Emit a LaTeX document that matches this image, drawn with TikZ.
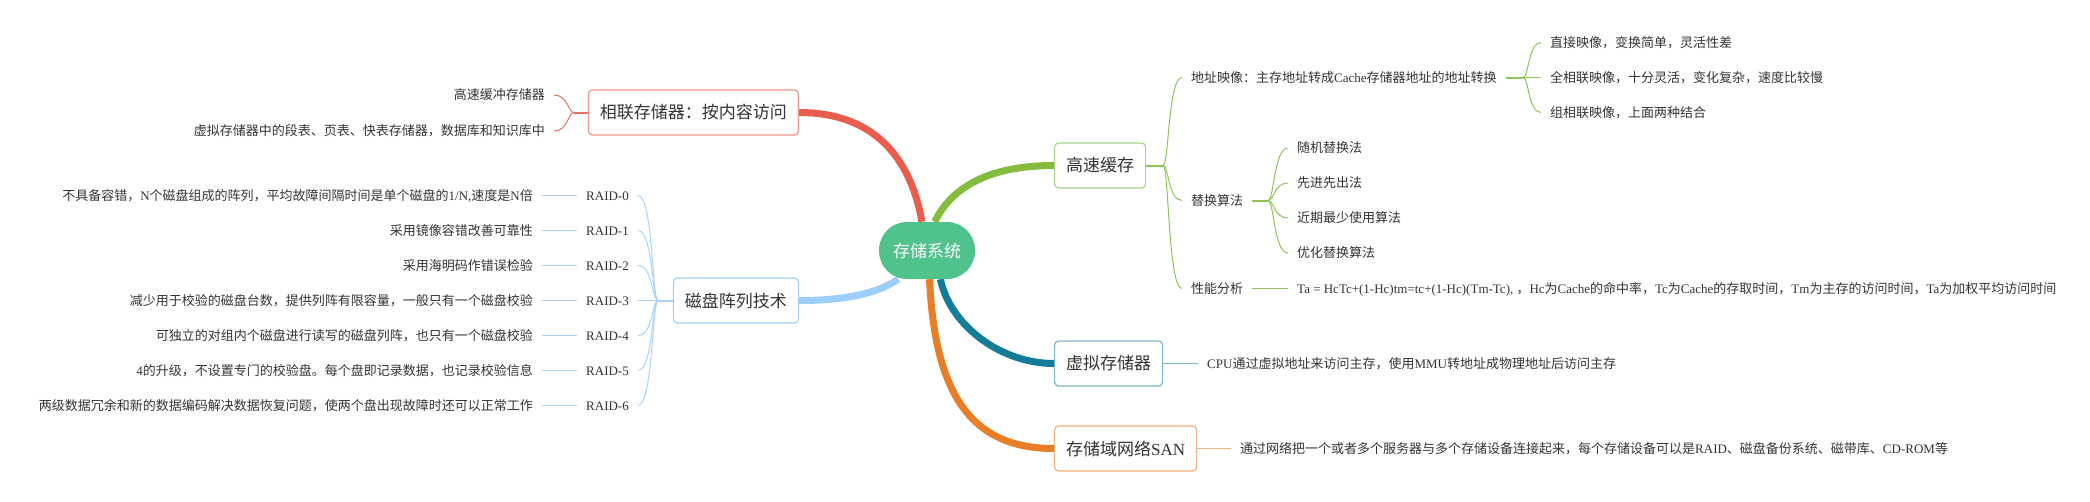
\documentclass[tikz,border=0pt]{standalone}
\usepackage{fontspec}
\setmainfont{Noto Sans CJK SC}
\newfontfamily\lat{Liberation Serif}
\usetikzlibrary{backgrounds}

\definecolor{txt}{HTML}{333333}
\definecolor{rootc}{HTML}{50C28C}
\definecolor{redm}{HTML}{E95D4F}
\definecolor{redb}{HTML}{F0948B}
\definecolor{redl}{HTML}{EC7062}
\definecolor{greenm}{HTML}{84BD3E}
\definecolor{greenb}{HTML}{A8D58B}
\definecolor{greenl}{HTML}{8DC45A}
\definecolor{bluem}{HTML}{9CCEFB}
\definecolor{blueb}{HTML}{A4D0F7}
\definecolor{bluel}{HTML}{A9D3FA}
\definecolor{tealm}{HTML}{137D97}
\definecolor{tealb}{HTML}{7BB6C6}
\definecolor{teall}{HTML}{79B8C8}
\definecolor{orangem}{HTML}{E97E28}
\definecolor{orangeb}{HTML}{F4B07A}
\definecolor{orangel}{HTML}{F4B485}

\begin{document}
\begin{tikzpicture}[x=1pt,y=-1pt]
		\tikzstyle{root}=[rectangle,rounded corners=28pt,fill=rootc,text=white,minimum width=96pt,minimum height=57pt,inner sep=0,font=\fontsize{17}{20}\selectfont]
		\tikzstyle{topic}=[rectangle,rounded corners=4pt,draw,fill=white,line width=1.2pt,minimum height=45pt,inner xsep=11.5pt,text=txt,font=\fontsize{17}{20}\selectfont]
		\tikzstyle{leaf}=[inner xsep=9pt,inner ysep=0pt,text height=10.5pt,text depth=1.5pt,text=txt,font=\fontsize{13}{15}\selectfont]
		\tikzstyle{branch}=[line width=7pt]
		\tikzstyle{stub}=[line width=2pt]
		\tikzstyle{link}=[line width=1.5pt]
		\tikzstyle{twig}=[line width=1pt]
		
		\useasboundingbox (0,0) rectangle (2090,501);
		
		\node [root] (c) at (927,250.5) {存储系统};
		
		\node [topic,draw=redb,anchor=east]     (a1) at (799,112.5)  {相联存储器：按内容访问};
		\node [topic,draw=blueb,anchor=east]    (a2) at (799,300.5)  {磁盘阵列技术};
		\node [topic,draw=greenb,anchor=west]   (b1) at (1054,165.5) {高速缓存};
		\node [topic,draw=tealb,anchor=west]    (b2) at (1054,363.5) {虚拟存储器};
		\node [topic,draw=orangeb,anchor=west]  (b3) at (1054,448.5) {存储域网络{\lat SAN}};
		
		\begin{pgfonlayer}{background}
		\draw[branch,redm]    (c.100) .. controls (912,165) and (880,112.5) .. (a1.east);
		\draw[branch,bluem]   (c.225) .. controls (875,295) and (840,300.5) .. (a2.east);
		\draw[branch,greenm]  (c.75)  .. controls (950,190) and (985,165.5) .. (b1.west);
		\draw[branch,tealm]   (c.295) .. controls (950,325) and (1000,363.5) .. (b2.west);
		\draw[branch,orangem] (c.275) .. controls (935,400) and (975,448.5) .. (b3.west);
		\end{pgfonlayer}
		
		\coordinate (j1) at (574,112.5);
		\node [leaf,anchor=east] (h1) at (554,95)  {高速缓冲存储器};
		\node [leaf,anchor=east] (h2) at (554,131) {虚拟存储器中的段表、页表、快表存储器，数据库和知识库中};
		
		\draw[stub,redl] (a1.west) -- (j1);
		\draw[twig,redl] (j1) .. controls +(-6,0) and +(14,0) .. (h1.east);
		\draw[twig,redl] (j1) .. controls +(-6,0) and +(14,0) .. (h2.east);
		
		\coordinate (j2) at (658,300.5);
		\node [leaf,anchor=east] (r0) at (638,195.5) {\lat RAID-0};
		\node [leaf,anchor=east] (r1) at (638,230.5) {\lat RAID-1};
		\node [leaf,anchor=east] (r2) at (638,265.5) {\lat RAID-2};
		\node [leaf,anchor=east] (r3) at (638,300.5) {\lat RAID-3};
		\node [leaf,anchor=east] (r4) at (638,335.5) {\lat RAID-4};
		\node [leaf,anchor=east] (r5) at (638,370.5) {\lat RAID-5};
		\node [leaf,anchor=east] (r6) at (638,405.5) {\lat RAID-6};
		
		\node [leaf,anchor=east] (d0) at (542,195.5) {不具备容错，{\lat N}个磁盘组成的阵列，平均故障间隔时间是单个磁盘的{\lat 1/N,}速度是{\lat N}倍};
		\node [leaf,anchor=east] (d1) at (542,230.5) {采用镜像容错改善可靠性};
		\node [leaf,anchor=east] (d2) at (542,265.5) {采用海明码作错误检验};
		\node [leaf,anchor=east] (d3) at (542,300.5) {减少用于校验的磁盘台数，提供列阵有限容量，一般只有一个磁盘校验};
		\node [leaf,anchor=east] (d4) at (542,335.5) {可独立的对组内个磁盘进行读写的磁盘列阵，也只有一个磁盘校验};
		\node [leaf,anchor=east] (d5) at (542,370.5) {{\lat 4}的升级，不设置专门的校验盘。每个盘即记录数据，也记录校验信息};
		\node [leaf,anchor=east] (d6) at (542,405.5) {两级数据冗余和新的数据编码解决数据恢复问题，使两个盘出现故障时还可以正常工作};
		
		\draw[stub,bluel] (a2.west) -- (j2);
		\draw[twig,bluel] (j2) .. controls +(-6,0) and +(15,0) .. (r0.east);
		\draw[twig,bluel] (j2) .. controls +(-6,0) and +(15,0) .. (r1.east);
		\draw[twig,bluel] (j2) .. controls +(-6,0) and +(15,0) .. (r2.east);
		\draw[twig,bluel] (j2) -- (r3.east);
		\draw[twig,bluel] (j2) .. controls +(-6,0) and +(15,0) .. (r4.east);
		\draw[twig,bluel] (j2) .. controls +(-6,0) and +(15,0) .. (r5.east);
		\draw[twig,bluel] (j2) .. controls +(-6,0) and +(15,0) .. (r6.east);
		\draw[twig,bluel] (r0.west) -- (d0.east);
		\draw[twig,bluel] (r1.west) -- (d1.east);
		\draw[twig,bluel] (r2.west) -- (d2.east);
		\draw[twig,bluel] (r3.west) -- (d3.east);
		\draw[twig,bluel] (r4.west) -- (d4.east);
		\draw[twig,bluel] (r5.west) -- (d5.east);
		\draw[twig,bluel] (r6.west) -- (d6.east);
		
		\coordinate (j3) at (1163,165.5);
		\node [leaf,anchor=west] (e1) at (1182,77.5)  {地址映像：主存地址转成{\lat Cache}存储器地址的地址转换};
		\node [leaf,anchor=west] (e2) at (1182,200.5) {替换算法};
		\node [leaf,anchor=west] (e3) at (1182,288.5) {性能分析};
		
		\draw[stub,greenl] (b1.east) -- (j3);
		\draw[twig,greenl] (j3) .. controls +(6,0) and +(-14,0) .. (e1.west);
		\draw[twig,greenl] (j3) .. controls +(6,0) and +(-14,0) .. (e2.west);
		\draw[twig,greenl] (j3) .. controls +(6,0) and +(-14,0) .. (e3.west);
		
		\coordinate (j4) at (1523,77.5);
		\node [leaf,anchor=west] (f1) at (1541,42.5)  {直接映像，变换简单，灵活性差};
		\node [leaf,anchor=west] (f2) at (1541,77.5)  {全相联映像，十分灵活，变化复杂，速度比较慢};
		\node [leaf,anchor=west] (f3) at (1541,112.5) {组相联映像，上面两种结合};
		
		\draw[stub,greenl] (e1.east) -- (j4);
		\draw[twig,greenl] (j4) .. controls +(6,0) and +(-13,0) .. (f1.west);
		\draw[twig,greenl] (j4) -- (f2.west);
		\draw[twig,greenl] (j4) .. controls +(6,0) and +(-13,0) .. (f3.west);
		
		\coordinate (j5) at (1268,200.5);
		\node [leaf,anchor=west] (g1) at (1288,148) {随机替换法};
		\node [leaf,anchor=west] (g2) at (1288,183) {先进先出法};
		\node [leaf,anchor=west] (g3) at (1288,218) {近期最少使用算法};
		\node [leaf,anchor=west] (g4) at (1288,253) {优化替换算法};
		
		\draw[stub,greenl] (e2.east) -- (j5);
		\draw[twig,greenl] (j5) .. controls +(6,0) and +(-14,0) .. (g1.west);
		\draw[twig,greenl] (j5) .. controls +(6,0) and +(-14,0) .. (g2.west);
		\draw[twig,greenl] (j5) .. controls +(6,0) and +(-14,0) .. (g3.west);
		\draw[twig,greenl] (j5) .. controls +(6,0) and +(-14,0) .. (g4.west);
		
		\node [leaf,anchor=west] (p1) at (1288,288.5) {{\lat Ta = HcTc+(1-Hc)tm=tc+(1-Hc)(Tm-Tc), }，{\lat Hc}为{\lat Cache}的命中率，{\lat Tc}为{\lat Cache}的存取时间，{\lat Tm}为主存的访问时间，{\lat Ta}为加权平均访问时间};
		\draw[link,greenl] (e3.east) -- (p1.west);
		
		\node [leaf,anchor=west] (q1) at (1198,363.5) {{\lat CPU}通过虚拟地址来访问主存，使用{\lat MMU}转地址成物理地址后访问主存};
		\draw[link,teall] (b2.east) -- (q1.west);
		
		\node [leaf,anchor=west] (s1) at (1231,448.5) {通过网络把一个或者多个服务器与多个存储设备连接起来，每个存储设备可以是{\lat RAID}、磁盘备份系统、磁带库、{\lat CD-ROM}等};
		\draw[link,orangel] (b3.east) -- (s1.west);
	\end{tikzpicture}
\end{document}
